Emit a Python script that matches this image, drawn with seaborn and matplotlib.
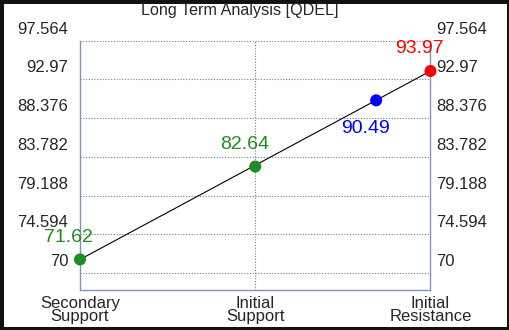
import matplotlib
matplotlib.use("Agg")
import matplotlib.pyplot as plt
import matplotlib.transforms as mtransforms
import pandas as pd
import seaborn as sns

# --- Données ---
title = "Long Term Analysis [QDEL]"
categories = ["Secondary\nSupport", "Initial\nSupport", "Initial\nResistance"]
point_names = ["Secondary Support", "Initial Support", "Current", "Initial Resistance"]
point_x = [0, 1, 1.69, 2]
point_y = [71.62, 82.64, 90.49, 93.97]
point_colors = ["#228b22", "#228b22", "#0000ff", "#ff0000"]
y_ticks = [70, 74.594, 79.188, 83.782, 88.376, 92.97, 97.564]
y_tick_labels = ["70", "74.594", "79.188", "83.782", "88.376", "92.97", "97.564"]

# --- Style ---
sns.set_style("white")
plt.rcParams["font.family"] = ["Liberation Sans", "DejaVu Sans"]

df = pd.DataFrame({"name": point_names, "x": point_x, "y": point_y})
palette = dict(zip(point_names, point_colors))

fig = plt.figure(figsize=(5.1, 3.3), dpi=100)
fig.patch.set_facecolor("white")
fig.patch.set_edgecolor("#111111")
fig.patch.set_linewidth(5)
ax = fig.add_axes([80 / 510, 1 - 290 / 330, 350.5 / 510, 249.3 / 330])

# axe de droite (créé avant les points pour qu'ils restent au-dessus)
ax2 = ax.twinx()
ax.set_zorder(ax2.get_zorder() + 1)
ax.patch.set_visible(False)

# ligne entre support secondaire et résistance
ends = df.iloc[[0, -1]]
sns.lineplot(data=ends, x="x", y="y", color="black", linewidth=0.8, ax=ax, zorder=2)
sns.scatterplot(data=df, x="x", y="y", hue="name", palette=palette, s=75,
                linewidth=0, legend=False, ax=ax, zorder=3, clip_on=False)

# étiquettes de valeurs
offsets = [(-8, 16), (-8, 16), (-8, -20), (-8, 16)]
for (_, row), off in zip(df.iterrows(), offsets):
    ax.annotate(f"{row['y']:.2f}", (row["x"], row["y"]), xytext=off,
                textcoords="offset points", ha="center", va="center",
                fontsize=14, color=palette[row["name"]], zorder=4)

ax.set_xlim(0, 2)
ax.set_ylim(68, 97.564)
ax.set_xticks(range(len(categories)))
ax.set_xticklabels(categories, fontsize=12, linespacing=0.9)
ax.set_yticks(y_ticks)
ax.set_yticklabels(y_tick_labels, fontsize=12)
ax.set_xlabel("")
ax.set_ylabel("")
ax.tick_params(axis="x", length=0, pad=4)
ax.tick_params(axis="y", length=0, pad=8.5)

grid_color = "#6d7fa0"
ax.grid(True, axis="y", color=grid_color, linestyle=(0, (1, 1.5)), linewidth=0.8)
ax.axvline(1, color=grid_color, linestyle=(0, (1, 1.5)), linewidth=0.8, zorder=1)

spine_color = "#8094b6"
for side in ["left", "right", "bottom"]:
    ax.spines[side].set_visible(True)
    ax.spines[side].set_color(spine_color)
    ax.spines[side].set_linewidth(1)
ax.spines["top"].set_visible(False)

ax2.set_ylim(ax.get_ylim())
ax2.set_yticks(y_ticks)
ax2.set_yticklabels(y_tick_labels, fontsize=12)
ax2.tick_params(axis="y", length=0, pad=4)
for spine in ax2.spines.values():
    spine.set_visible(False)

# les libellés sont décalés vers le haut par rapport aux lignes
shift = mtransforms.ScaledTranslation(0, 13 / 100, fig.dpi_scale_trans)
for tick in ax.yaxis.get_major_ticks():
    tick.label1.set_transform(tick.label1.get_transform() + shift)
for tick in ax2.yaxis.get_major_ticks():
    tick.label2.set_transform(tick.label2.get_transform() + shift)

fig.text(240 / 510, 1 - 15 / 330, title, ha="center", va="baseline", fontsize=11.6)

fig.savefig("out.png", dpi=100)
